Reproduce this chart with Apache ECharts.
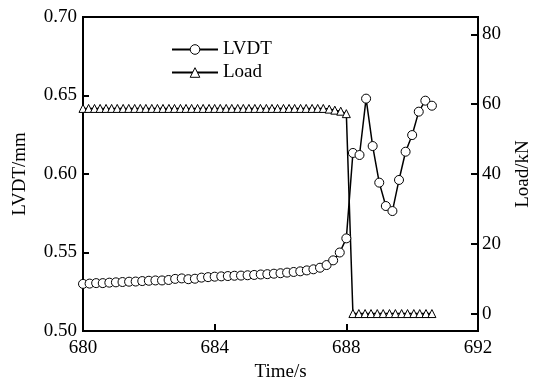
<!DOCTYPE html>
<html>
<head>
<meta charset="utf-8">
<script src="https://cdn.jsdelivr.net/npm/echarts@6/dist/echarts.min.js"></script>
<style>
html,body{margin:0;padding:0;background:#fff;}
#chart{width:536px;height:383px;}
</style>
</head>
<body>
<div id="chart"></div>
<script>
// LVDT (mm) vs time (s)
var lvdtTime = [680.0,680.2,680.4,680.6,680.8,681.0,681.2,681.4,681.6,681.8,
  682.0,682.2,682.4,682.6,682.8,683.0,683.2,683.4,683.6,683.8,
  684.0,684.2,684.4,684.6,684.8,685.0,685.2,685.4,685.6,685.8,
  686.0,686.2,686.4,686.6,686.8,687.0,687.2,687.4,687.6,687.8,
  688.0,688.2,688.4,688.6,688.8,689.0,689.2,689.4,689.6,689.8,
  690.0,690.2,690.4,690.6];
var lvdtValues = [0.5300,0.5302,0.5305,0.5305,0.5308,0.5310,0.5312,0.5314,0.5315,0.5318,
  0.5320,0.5322,0.5322,0.5325,0.5332,0.5335,0.5330,0.5333,0.5340,0.5343,
  0.5346,0.5348,0.5350,0.5352,0.5353,0.5355,0.5357,0.5360,0.5362,0.5365,
  0.5368,0.5372,0.5376,0.5380,0.5386,0.5393,0.5403,0.5420,0.5450,0.5500,
  0.5590,0.6134,0.6121,0.6480,0.6178,0.5945,0.5796,0.5764,0.5962,0.6142,
  0.6248,0.6397,0.6467,0.6435];

// Load (kN) vs time (s)
var loadTime = [680.00,680.17,680.35,680.52,680.70,680.87,681.04,681.22,681.39,681.57,
  681.74,681.91,682.09,682.26,682.43,682.61,682.78,682.96,683.13,683.30,
  683.48,683.65,683.83,684.00,684.17,684.35,684.52,684.70,684.87,685.04,
  685.22,685.39,685.57,685.74,685.91,686.09,686.26,686.43,686.61,686.78,
  686.96,687.13,687.30,687.48,687.65,687.83,688.00,
  688.20,688.38,688.57,688.75,688.94,689.12,689.31,689.49,689.68,689.86,
  690.05,690.23,690.42,690.60];
var loadValues = [58.8,58.8,58.8,58.8,58.8,58.8,58.8,58.8,58.8,58.8,
  58.8,58.8,58.8,58.8,58.8,58.8,58.8,58.8,58.8,58.8,
  58.8,58.8,58.8,58.8,58.8,58.8,58.8,58.8,58.8,58.8,
  58.8,58.8,58.8,58.8,58.8,58.8,58.8,58.8,58.8,58.8,
  58.8,58.8,58.8,58.6,58.3,58.0,57.3,
  0,0,0,0,0,0,0,0,0,0,
  0,0,0,0];

var xTicks = [680, 684, 688, 692];
var loadTicks = [0, 20, 40, 60, 80];

function pairs(xs, ys){ return xs.map(function(x,i){ return [x, ys[i]]; }); }

var font = 'Liberation Serif';
var chart = echarts.init(document.getElementById('chart'), null, {renderer:'canvas'});
chart.setOption({
  animation: false,
  backgroundColor: '#fff',
  textStyle: {fontFamily: font},
  grid: {left: 83, right: 58, top: 17, bottom: 52, containLabel: false, outerBoundsMode: 'none',
    show: true, borderColor: '#000', borderWidth: 2, backgroundColor: 'transparent'},
  legend: {
    orient: 'vertical', left: 166, top: 35, itemGap: 4,
    itemWidth: 46, itemHeight: 12, itemStyle: {borderWidth: 1},
    textStyle: {fontFamily: font, fontSize: 19, color: '#000'},
    data: ['LVDT', 'Load']
  },
  xAxis: {
    type: 'value', min: 680, max: 692, interval: 4,
    name: 'Time/s', nameLocation: 'middle', nameGap: 32,
    nameTextStyle: {fontFamily: font, fontSize: 19, color: '#000'},
    axisLine: {show: true, onZero: false, lineStyle: {color: '#000', width: 2}},
    axisTick: {show: true, inside: true, length: 7, lineStyle: {color: '#000', width: 2}},
    axisLabel: {fontFamily: font, fontSize: 19, color: '#000', margin: 8},
    splitLine: {show: false}
  },
  yAxis: [{
    type: 'value', min: 0.5, max: 0.7, interval: 0.05, position: 'left',
    name: 'LVDT/mm', nameLocation: 'middle', nameGap: 53, nameRotate: 90,
    nameTextStyle: {fontFamily: font, fontSize: 19, color: '#000'},
    axisLine: {show: true, onZero: false, lineStyle: {color: '#000', width: 2}},
    axisTick: {show: true, inside: true, length: 6, lineStyle: {color: '#000', width: 2}},
    axisLabel: {fontFamily: font, fontSize: 19, color: '#000', margin: 6,
      formatter: function(v){ return v.toFixed(2); }},
    splitLine: {show: false}
  }, {
    type: 'value', min: -5, max: 85, position: 'right',
    name: 'Load/kN', nameLocation: 'middle', nameGap: 36, nameRotate: 90,
    nameTextStyle: {fontFamily: font, fontSize: 19, color: '#000'},
    axisLine: {show: true, onZero: false, lineStyle: {color: '#000', width: 2}},
    axisTick: {show: true, inside: true, length: 7, customValues: loadTicks, lineStyle: {color: '#000', width: 2}},
    axisLabel: {fontFamily: font, fontSize: 19, color: '#000', margin: 4, customValues: loadTicks},
    splitLine: {show: false}
  }],
  series: [{
    name: 'LVDT', type: 'line', yAxisIndex: 0,
    data: pairs(lvdtTime, lvdtValues),
    symbol: 'circle', symbolSize: 9, showAllSymbol: true,
    lineStyle: {color: '#000', width: 1.5},
    itemStyle: {color: '#fff', borderColor: '#000', borderWidth: 1},
    z: 3
  }, {
    name: 'Load', type: 'line', yAxisIndex: 1,
    data: pairs(loadTime, loadValues),
    symbol: 'triangle', symbolSize: 8, showAllSymbol: true,
    lineStyle: {color: '#000', width: 1.5},
    itemStyle: {color: '#fff', borderColor: '#000', borderWidth: 1},
    z: 2
  }]
});
</script>
</body>
</html>
